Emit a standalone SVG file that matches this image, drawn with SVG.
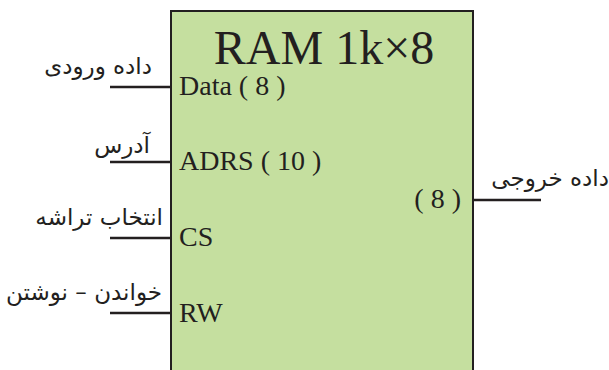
<svg xmlns="http://www.w3.org/2000/svg" width="609" height="370" viewBox="0 0 609 370">
<style>
.box{fill:#c5df9f;stroke:#231f20;stroke-width:2}
.wire{stroke:#231f20;stroke-width:2.5;fill:none}
.en{font-family:"Liberation Serif","Times New Roman",serif;fill:#231f20}
.fa{font-family:"DejaVu Sans","Noto Sans",sans-serif;font-size:23px;fill:#231f20;text-anchor:end}
</style>
<rect width="609" height="370" fill="#ffffff"/>
<g id="ram">
<rect class="box" x="171" y="11" width="302" height="370"/>
<text class="en" x="324" y="64" font-size="48" text-anchor="middle">RAM 1k×8</text>
<text class="en" x="179" y="95" font-size="28">Data ( 8 )</text>
<text class="en" x="179" y="170" font-size="28">ADRS ( 10 )</text>
<text class="en" x="179" y="246" font-size="28">CS</text>
<text class="en" x="179" y="322" font-size="28">RW</text>
<text class="en" x="461" y="208" font-size="28" text-anchor="end">( 8 )</text>
</g>
<g id="connectors">
<line class="wire" x1="110" y1="87" x2="171" y2="87"/>
<line class="wire" x1="110" y1="162" x2="171" y2="162"/>
<line class="wire" x1="110" y1="238" x2="171" y2="238"/>
<line class="wire" x1="110" y1="313" x2="171" y2="313"/>
<line class="wire" x1="473" y1="200" x2="541" y2="200"/>
</g>
<g id="labels">
<text class="fa" x="152" y="74">داده ورودی</text>
<text class="fa" x="150" y="153">آدرس</text>
<text class="fa" x="163" y="225">انتخاب تراشه</text>
<text class="fa" x="162" y="300">خواندن – نوشتن</text>
<text class="fa" x="609" y="186">داده خروجی</text>
</g>
</svg>
